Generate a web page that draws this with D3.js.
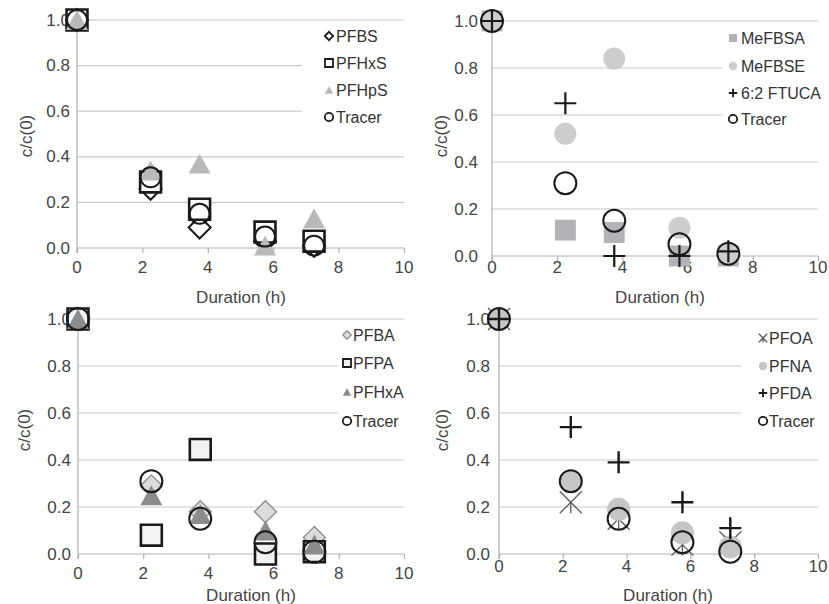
<!DOCTYPE html>
<html>
<head>
<meta charset="utf-8">
<script src="https://cdn.jsdelivr.net/npm/d3@7"></script>
<style>
  html, body { margin: 0; padding: 0; background: #fff; }
  svg { display: block; font-family: "Liberation Sans", Arial, sans-serif; }
</style>
</head>
<body>
<svg id="chart" width="829" height="604"></svg>
<script>
// Sampling times (h) shared by all four experiments
const hours = [0, 2.25, 3.75, 5.75, 7.25];
const xTicks = [0, 2, 4, 6, 8, 10];
const yTicks = [0, 0.2, 0.4, 0.6, 0.8, 1.0];

// Normalised concentrations c/c(0)
const tracer  = [1.0, 0.31, 0.15, 0.05, 0.01];

const pfbs    = [1.0, 0.26, 0.09, 0.03, 0.01];
const pfhxs   = [1.0, 0.29, 0.17, 0.07, 0.03];
const pfhps   = [1.0, 0.34, 0.37, 0.01, 0.13];

const mefbsa  = [1.0, 0.11, 0.10, 0.0, 0.0];
const mefbse  = [1.0, 0.52, 0.84, 0.12, 0.01];
const ftuca   = [1.0, 0.65, 0.0, 0.0, 0.02];

const pfba    = [1.0, 0.29, 0.18, 0.18, 0.07];
const pfpa    = [1.0, 0.08, 0.445, 0.0, 0.01];
const pfhxa   = [1.0, 0.25, 0.17, 0.10, 0.04];

const pfoa    = [1.0, 0.22, 0.15, 0.04, 0.05];
const pfna    = [1.0, 0.31, 0.19, 0.09, 0.03];
const pfda    = [1.0, 0.54, 0.39, 0.22, 0.11];

// Series per panel, in legend (and drawing) order
const seriesTL = [
  { name: "PFBS",  values: pfbs,  shape: "diamond",  fill: "#fff",    stroke: "#1a1a1a", sw: 2,   r: 11 },
  { name: "PFHxS", values: pfhxs, shape: "square",   fill: "#fff",    stroke: "#1a1a1a", sw: 2.6, r: 11 },
  { name: "PFHpS", values: pfhps, shape: "triangle", fill: "#b9b9b9", stroke: "none",    sw: 0,   r: 11 },
  { name: "Tracer",values: tracer,shape: "circle",   fill: "none",    stroke: "#1a1a1a", sw: 2,   r: 10 }
];
const seriesTR = [
  { name: "MeFBSA",    values: mefbsa, shape: "square", fill: "#b3b3b7", stroke: "none",    sw: 0,   r: 11 },
  { name: "MeFBSE",    values: mefbse, shape: "circle", fill: "#cdcdcd", stroke: "none",    sw: 0,   r: 11 },
  { name: "6:2 FTUCA", values: ftuca,  shape: "plus",   fill: "none",    stroke: "#1a1a1a", sw: 2.2, r: 11 },
  { name: "Tracer",    values: tracer, shape: "circle", fill: "none",    stroke: "#1a1a1a", sw: 2,   r: 11 }
];
const seriesBL = [
  { name: "PFBA",  values: pfba,  shape: "diamond",  fill: "#dcdcdc", stroke: "#8a8a8a", sw: 1.3, r: 11 },
  { name: "PFPA",  values: pfpa,  shape: "square",   fill: "#f2f2f2", stroke: "#1a1a1a", sw: 2.6, r: 11 },
  { name: "PFHxA", values: pfhxa, shape: "triangle", fill: "#8c8c8c", stroke: "none",    sw: 0,   r: 11 },
  { name: "Tracer",values: tracer,shape: "circle",   fill: "none",    stroke: "#1a1a1a", sw: 2,   r: 11 }
];
const seriesBR = [
  { name: "PFOA",  values: pfoa,  shape: "asterisk", fill: "none",    stroke: "#5a5a5a", sw: 1.3, r: 11 },
  { name: "PFNA",  values: pfna,  shape: "circle",   fill: "#c6c6c6", stroke: "none",    sw: 0,   r: 11.5 },
  { name: "PFDA",  values: pfda,  shape: "plus",     fill: "none",    stroke: "#1a1a1a", sw: 2.4, r: 11 },
  { name: "Tracer",values: tracer,shape: "circle",   fill: "none",    stroke: "#1a1a1a", sw: 2,   r: 11 }
];

// Panel geometry
const panels = [
  { series: seriesTL, x0: 77,  x1: 404, yTop: 20,  yZero: 248, tickLabelY: 267, yLabGap: 7,
    legend: { mx: 329, tx: 336, rows: [36, 63, 90, 117], box: [302, 26, 110, 104] },
    xTitle: [241, 297], yTitle: [26, 136] },
  { series: seriesTR, x0: 492, x1: 818, yTop: 21,  yZero: 256, tickLabelY: 267, yLabGap: 14,
    legend: { mx: 733, tx: 741, rows: [38, 66, 93, 119], box: [722, 27, 107, 104] },
    xTitle: [660, 297], yTitle: [441, 136] },
  { series: seriesBL, x0: 78,  x1: 404, yTop: 319, yZero: 554, tickLabelY: 573, yLabGap: 7,
    legend: { mx: 347, tx: 353, rows: [335, 363, 392, 421], box: [338, 326, 72, 106] },
    xTitle: [251, 595], yTitle: [24, 430] },
  { series: seriesBR, x0: 499, x1: 818, yTop: 319, yZero: 554, tickLabelY: 566, yLabGap: 9,
    legend: { mx: 763, tx: 769, rows: [338, 366, 393, 421], box: [741, 326, 88, 106] },
    xTitle: [668, 595], yTitle: [442, 430] }
];

// Marker path of a given half-size r centred on (0,0)
function markerPath(shape, r) {
  const p = d3.path();
  if (shape === "diamond") {
    p.moveTo(0, -r); p.lineTo(r, 0); p.lineTo(0, r); p.lineTo(-r, 0); p.closePath();
  } else if (shape === "square") {
    const s = r * 0.95;
    p.rect(-s, -s, 2 * s, 2 * s);
  } else if (shape === "triangle") {
    const h = r * 0.9;
    p.moveTo(0, -h); p.lineTo(r, h); p.lineTo(-r, h); p.closePath();
  } else if (shape === "circle") {
    p.arc(0, 0, r, 0, 2 * Math.PI);
  } else if (shape === "plus") {
    p.moveTo(-r, 0); p.lineTo(r, 0); p.moveTo(0, -r); p.lineTo(0, r);
  } else if (shape === "asterisk") {
    p.moveTo(-r, -r); p.lineTo(r, r); p.moveTo(r, -r); p.lineTo(-r, r);
    p.moveTo(0, 0); p.lineTo(0, r);
  }
  return p.toString();
}

const svg = d3.select("#chart");
const gridColor = "#c9c9c9";
const axisColor = "#b0b0b0";
const textColor = "#444";

panels.forEach(pn => {
  const x = d3.scaleLinear().domain([0, 10]).range([pn.x0, pn.x1]);
  const y = d3.scaleLinear().domain([0, 1]).range([pn.yZero, pn.yTop]);
  const g = svg.append("g");

  // horizontal gridlines
  g.selectAll("line.grid").data(yTicks.filter(t => t > 0)).join("line")
    .attr("x1", pn.x0).attr("x2", pn.x1)
    .attr("y1", d => y(d)).attr("y2", d => y(d))
    .attr("stroke", gridColor).attr("stroke-width", 1.2);

  // x axis with small downward ticks
  const xAxis = d3.axisBottom(x).tickValues(xTicks).tickSize(5).tickFormat("");
  const xg = g.append("g").attr("transform", `translate(0,${pn.yZero})`).call(xAxis);
  xg.select(".domain").attr("d", `M${pn.x0},0H${pn.x1}`).attr("stroke", axisColor).attr("stroke-width", 1.2);
  xg.selectAll(".tick line").attr("stroke", axisColor).attr("stroke-width", 1.2);

  g.selectAll("text.xt").data(xTicks).join("text")
    .attr("x", d => x(d)).attr("y", pn.tickLabelY)
    .attr("text-anchor", "middle").attr("dominant-baseline", "central")
    .attr("font-size", 17).attr("fill", textColor)
    .text(d => d);

  // y axis
  const yAxis = d3.axisLeft(y).tickValues(yTicks).tickSize(0).tickFormat("");
  const yg = g.append("g").attr("transform", `translate(${pn.x0},0)`).call(yAxis);
  yg.select(".domain").attr("d", `M0,${pn.yTop}V${pn.yZero + 5}`).attr("stroke", axisColor).attr("stroke-width", 1.2);

  g.selectAll("text.yt").data(yTicks).join("text")
    .attr("x", pn.x0 - pn.yLabGap).attr("y", d => y(d))
    .attr("text-anchor", "end").attr("dominant-baseline", "central")
    .attr("font-size", 17).attr("fill", textColor)
    .text(d => d3.format(".1f")(d));

  // axis titles
  g.append("text").attr("x", pn.xTitle[0]).attr("y", pn.xTitle[1])
    .attr("text-anchor", "middle").attr("dominant-baseline", "central")
    .attr("font-size", 17).attr("fill", textColor).text("Duration (h)");
  g.append("text")
    .attr("transform", `translate(${pn.yTitle[0]},${pn.yTitle[1]}) rotate(-90)`)
    .attr("text-anchor", "middle").attr("dominant-baseline", "central")
    .attr("font-size", 17).attr("fill", textColor).text("c/c(0)");

  // legend background hides the gridlines behind it
  const lg = pn.legend;
  g.append("rect").attr("x", lg.box[0]).attr("y", lg.box[1])
    .attr("width", lg.box[2]).attr("height", lg.box[3]).attr("fill", "#fff");

  // data markers
  pn.series.forEach(s => {
    g.append("g").selectAll("path").data(hours.map((h, i) => [h, s.values[i]])).join("path")
      .attr("transform", d => `translate(${x(d[0])},${y(d[1])})`)
      .attr("d", markerPath(s.shape, s.r))
      .attr("fill", s.fill).attr("stroke", s.stroke).attr("stroke-width", s.sw)
      .attr("stroke-linecap", "butt");
  });

  // legend entries
  pn.series.forEach((s, i) => {
    const yy = lg.rows[i];
    g.append("path").attr("transform", `translate(${lg.mx},${yy})`)
      .attr("d", markerPath(s.shape, 4.2))
      .attr("fill", s.fill).attr("stroke", s.stroke)
      .attr("stroke-width", s.sw ? Math.min(s.sw, 1.8) : 0);
    g.append("text").attr("x", lg.tx).attr("y", yy)
      .attr("dominant-baseline", "central").attr("font-size", 16)
      .attr("fill", "#333").text(s.name);
  });
});
</script>
</body>
</html>
